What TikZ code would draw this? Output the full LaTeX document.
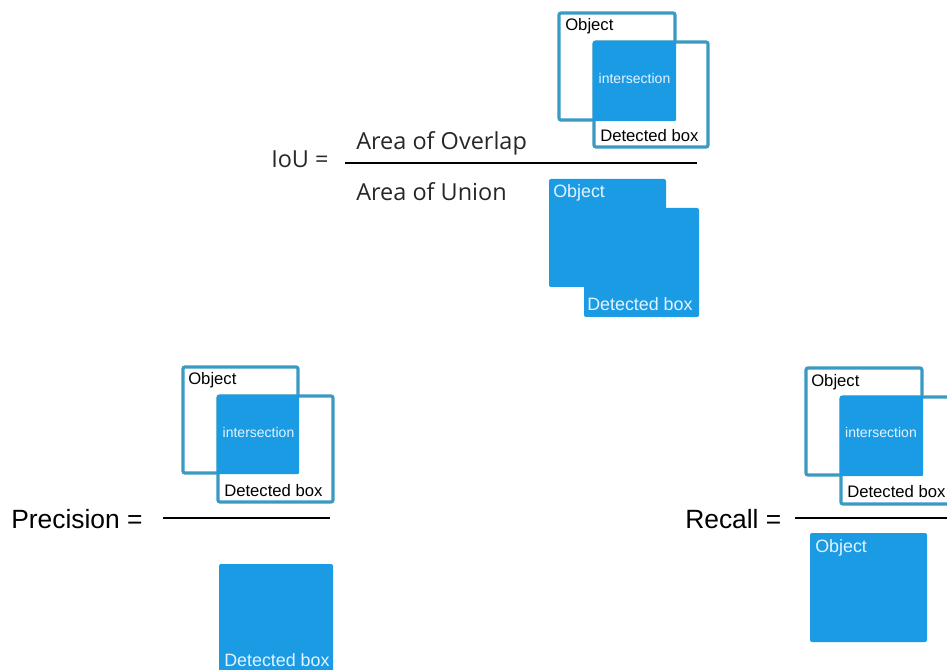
\documentclass[tikz,border=0pt]{standalone}
\usepackage{fontspec}
\setmainfont{Liberation Sans}
\newfontfamily\formulafont{Open Sans}
\definecolor{boxblue}{HTML}{1B9BE4}
\definecolor{edgeteal}{HTML}{3A9AC2}
\definecolor{paletext}{HTML}{E4F4FF}
\tikzset{
  outlinebox/.style={draw=edgeteal, line width=2.4pt, fill=white, rounded corners=1.5pt},
  filledbox/.style={fill=boxblue, rounded corners=1.5pt},
  smalllabel/.style={inner sep=0pt, anchor=base west, font=\fontsize{12.5}{12.5}\selectfont},
  innerlabel/.style={inner sep=0pt, anchor=base, text=paletext, font=\fontsize{10.5}{10.5}\selectfont},
  whitelabel/.style={inner sep=0pt, anchor=base west, text=paletext, font=\fontsize{13.4}{13.4}\selectfont},
  biglabel/.style={inner sep=0pt, anchor=base west, font=\fontsize{19.8}{19.8}\selectfont},
  formulalabel/.style={inner sep=0pt, anchor=base west, font=\formulafont\fontsize{17.6}{17.6}\selectfont, text=black!85},
  fracline/.style={line width=1.1pt, black}
}
\begin{document}
\begin{tikzpicture}[x=0.75pt, y=-0.75pt]
\useasboundingbox (0,0) rectangle (947,670);

% ---------- IoU ----------
\node[formulalabel] (iou) at (271,168) {IoU =};
\coordinate (iouL) at (345,163);
\coordinate (iouR) at (697,163);
\draw[fracline] (iouL) -- (iouR);
\node[formulalabel] (overlap) at (356,150) {Area of Overlap};
\node[formulalabel] (union) at (356,201) {Area of Union};

% overlap sketch
\draw[outlinebox] (559,13) rectangle (675,120);
\draw[outlinebox] (594,42) rectangle (708,147);
\fill[filledbox] (592.8,40.8) rectangle (676.2,121.2);
\node[smalllabel] (ovObj) at (565,31) {Object};
\node[innerlabel] (ovInt) at (634.5,84) {intersection};
\node[smalllabel] (ovDet) at (600,142) {Detected box};

% union sketch
\fill[filledbox] (549,179) rectangle (666,287);
\fill[filledbox] (584,208) rectangle (699,317);
\node[whitelabel] (unObj) at (553,198) {Object};
\node[whitelabel] (unDet) at (587,311) {Detected box};

% ---------- Precision ----------
\node[biglabel] (prec) at (11,528) {Precision =};
\coordinate (precL) at (163,518);
\coordinate (precR) at (330,518);
\draw[fracline] (precL) -- (precR);

\draw[outlinebox] (183,367) rectangle (298,473);
\draw[outlinebox] (218,396) rectangle (333,502);
\fill[filledbox] (216.8,394.8) rectangle (299.2,474.2);
\node[smalllabel] (prObj) at (188,385) {Object};
\node[innerlabel] (prInt) at (258.5,438) {intersection};
\node[smalllabel] (prDet) at (224,497) {Detected box};

\fill[filledbox] (219,564) rectangle (333,675);
\node[whitelabel] (prDen) at (224,666) {Detected box};

% ---------- Recall ----------
\node[biglabel] (rec) at (685,528) {Recall =};
\coordinate (recL) at (795,518);
\coordinate (recR) at (947,518);
\draw[fracline] (recL) -- (recR);

\draw[outlinebox] (806,368) rectangle (922,475);
\draw[outlinebox] (841,397) rectangle (960,504);
\fill[filledbox] (839.8,395.8) rectangle (923.2,476.2);
\node[smalllabel] (reObj) at (811,387) {Object};
\node[innerlabel] (reInt) at (881,438) {intersection};
\node[smalllabel] (reDet) at (847,498) {Detected box};

\fill[filledbox] (810,533) rectangle (927,642);
\node[whitelabel] (reDen) at (815,552) {Object};
\end{tikzpicture}
\end{document}
